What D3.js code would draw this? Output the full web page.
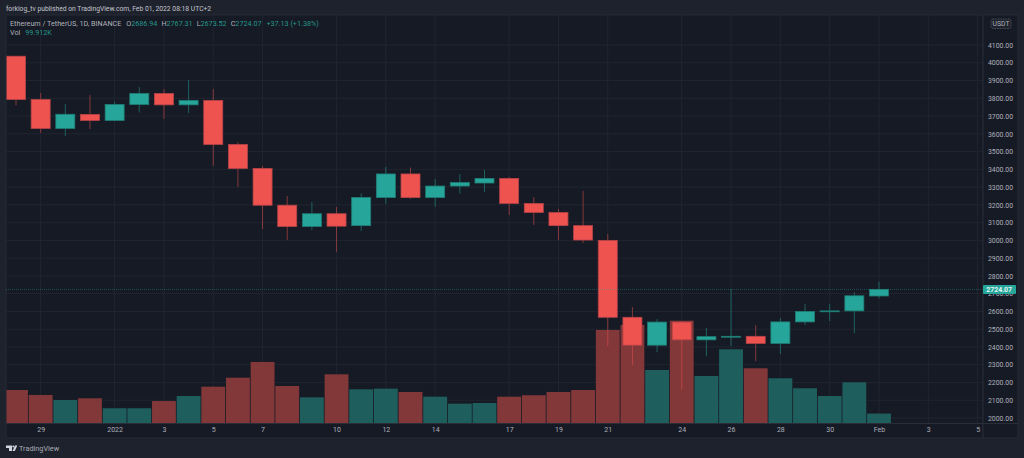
<!DOCTYPE html>
<html><head><meta charset="utf-8">
<script src="https://cdnjs.cloudflare.com/ajax/libs/d3/7.8.5/d3.min.js"></script>
<style>html,body{margin:0;padding:0;background:#1e222d;overflow:hidden}svg{display:block}text{font-family:Roboto,sans-serif}</style>
</head><body><svg id="c" width="1024" height="458"></svg>
<script>
const dates=["2021-12-28","2021-12-29","2021-12-30","2021-12-31","2022-01-01","2022-01-02","2022-01-03","2022-01-04","2022-01-05","2022-01-06","2022-01-07","2022-01-08","2022-01-09","2022-01-10","2022-01-11","2022-01-12","2022-01-13","2022-01-14","2022-01-15","2022-01-16","2022-01-17","2022-01-18","2022-01-19","2022-01-20","2022-01-21","2022-01-22","2022-01-23","2022-01-24","2022-01-25","2022-01-26","2022-01-27","2022-01-28","2022-01-29","2022-01-30","2022-01-31","2022-02-01"];
const opens=[4037,3793,3630,3709,3675,3765,3827,3763,3788,3540,3405,3198,3078,3150,3083,3241,3374,3241,3306,3323,3349,3208,3157,3083,3000,2567,2410,2540,2440,2455,2460,2420,2541,2598,2603,2686.94];
const highs=[4037,3830,3768,3818,3780,3863,3852,3903,3852,3554,3419,3250,3216,3188,3265,3413,3410,3345,3374,3396,3357,3244,3177,3278,3036,2625,2557,2545,2507,2726,2523,2563,2642,2642,2708,2767.31];
const lows=[3760,3605,3588,3627,3675,3720,3683,3717,3420,3300,3064,3002,3058,2935,3053,3205,3233,3188,3264,3272,3143,3087,3002,2985,2405,2298,2370,2158,2348,2405,2320,2360,2523,2546,2478,2673.52];
const closes=[3793,3630,3710,3675,3765,3827,3763,3788,3540,3405,3198,3078,3150,3080,3242,3374,3241,3306,3326,3349,3208,3157,3083,3002,2567,2410,2540,2440,2458,2460,2420,2541,2600,2603,2688,2724.07];
const volumes=[350,297,244,262,156,156,233,286,385,480,647,392,272,516,357,364,329,279,205,212,279,294,329,350,986,1039,562,1084,498,781,580,474,368,286,431,99.912];
const priceTicks=[2000,2100,2200,2300,2400,2500,2600,2700,2800,2900,3000,3100,3200,3300,3400,3500,3600,3700,3800,3900,4000,4100];
const timeTickDates=["2021-12-29","2022-01-01","2022-01-03","2022-01-05","2022-01-07","2022-01-10","2022-01-12","2022-01-14","2022-01-17","2022-01-19","2022-01-21","2022-01-24","2022-01-26","2022-01-28","2022-01-30","2022-02-01","2022-02-03","2022-02-05"];
const timeTickLabels=["29","2022","3","5","7","10","12","14","17","19","21","24","26","28","30","Feb","3","5"];
const title="forklog_tv published on TradingView.com, Feb 01, 2022 08:18 UTC+2";
const symbol="Ethereum / TetherUS, 1D, BINANCE";
const lastPrice=2724.07, lastVolume="99.912K", changeText="+37.13 (+1.38%)";

const BG="#1e222d",PANE="#161a25",GRID="#212530",UP="#26a69a",DOWN="#ef5350",TXT="#aeb1ba";
const L=6,R=1018,T=15,B=438,AX=983,BASE=423;
const svg=d3.select("#c");
const day=s=>new Date(s+"T00:00:00Z");
const x=d3.scaleUtc().domain([day("2021-12-28"),day("2022-02-01")]).range([16,879]);
const y=d3.scaleLinear().domain([2000,4100]).range([418,45]);
const v=d3.scaleLinear().domain([0,1084]).range([BASE,320.7]);
const bw=x(day("2021-12-29"))-x(day("2021-12-28"));

svg.append("rect").attr("width",1024).attr("height",458).attr("fill",BG);
svg.append("rect").attr("x",L).attr("y",T).attr("width",R-L).attr("height",B-T).attr("fill",PANE).attr("stroke","#262a35").attr("stroke-width",1);
svg.append("defs").append("clipPath").attr("id","pane").append("rect").attr("x",L+.5).attr("y",T+.5).attr("width",AX-L-.5).attr("height",BASE-T-.5);

// grid
const grid=svg.append("g").attr("stroke",GRID).attr("stroke-width",1);
grid.selectAll("line.h").data(priceTicks).join("line").attr("class","h").attr("x1",L).attr("x2",AX).attr("y1",d=>y(d)).attr("y2",d=>y(d));
grid.selectAll("line.v").data(timeTickDates).join("line").attr("class","v").attr("x1",d=>x(day(d))).attr("x2",d=>x(day(d))).attr("y1",T).attr("y2",BASE);

const plot=svg.append("g").attr("clip-path","url(#pane)");
const idx=d3.range(dates.length);
const isUp=i=>closes[i]>=opens[i];
// volume
plot.selectAll("rect.vol").data(idx).join("rect").attr("class","vol")
 .attr("x",i=>x(day(dates[i]))-bw/2+.4).attr("width",bw-.8)
 .attr("y",i=>v(volumes[i])).attr("height",i=>BASE-v(volumes[i]))
 .attr("fill",i=>isUp(i)?"#1e5f5e":"#823739");
// wicks
plot.selectAll("line.wick").data(idx).join("line").attr("class","wick")
 .attr("x1",i=>x(day(dates[i]))).attr("x2",i=>x(day(dates[i])))
 .attr("y1",i=>y(highs[i])).attr("y2",i=>y(lows[i]))
 .attr("stroke",i=>isUp(i)?UP:DOWN).attr("stroke-opacity",.5).attr("stroke-width",1);
// bodies
plot.selectAll("rect.body").data(idx).join("rect").attr("class","body")
 .attr("x",i=>x(day(dates[i]))-9.5).attr("width",19)
 .attr("y",i=>y(Math.max(opens[i],closes[i]))).attr("height",i=>Math.max(.6,Math.abs(y(opens[i])-y(closes[i]))))
 .attr("fill",i=>isUp(i)?UP:DOWN).attr("stroke",i=>isUp(i)?"#1f7d75":"#b54448").attr("stroke-width",.8);

// last price line
svg.append("line").attr("x1",L).attr("x2",AX).attr("y1",y(lastPrice)).attr("y2",y(lastPrice))
 .attr("stroke",UP).attr("stroke-opacity",.4).attr("stroke-dasharray","1 1").attr("stroke-width",1);

// axis separators
svg.append("line").attr("x1",AX).attr("x2",AX).attr("y1",T).attr("y2",B).attr("stroke","#2a2e39");
svg.append("line").attr("x1",L).attr("x2",R).attr("y1",BASE+.5).attr("y2",BASE+.5).attr("stroke","#2a2e39");

// axes
const yAxis=svg.append("g").attr("transform",`translate(${AX+5},0)`)
 .call(d3.axisRight(y).tickValues(priceTicks).tickFormat(d3.format(".2f")).tickSize(0).tickPadding(0));
yAxis.select(".domain").remove();
yAxis.selectAll("text").attr("fill",TXT).attr("font-size",6.9).attr("font-family","Roboto,sans-serif");
const labelOf=new Map(timeTickDates.map((d,i)=>[+day(d),timeTickLabels[i]]));
const xAxis=svg.append("g").attr("transform",`translate(0,${BASE+4.5})`)
 .call(d3.axisBottom(x).tickValues(timeTickDates.map(day)).tickFormat(d=>labelOf.get(+d)).tickSize(0).tickPadding(0));
xAxis.select(".domain").remove();
xAxis.selectAll("text").attr("fill",TXT).attr("font-size",7).attr("font-family","Roboto,sans-serif");

// last price tag
svg.append("rect").attr("x",983).attr("y",y(lastPrice)-4.5).attr("width",33).attr("height",9).attr("rx",1).attr("fill",UP);
svg.append("text").attr("x",1012).attr("y",y(lastPrice)+2.6).attr("text-anchor","end").attr("fill","#e8f5f3").attr("font-size",6.9).attr("font-weight",700).text(lastPrice.toFixed(2));

// USDT box
svg.append("rect").attr("x",991).attr("y",19).attr("width",20).attr("height",9.5).attr("rx",2).attr("fill","#1e222d").attr("stroke","#6a6e78").attr("stroke-width",.6).attr("stroke-dasharray","1.5 1");
svg.append("text").attr("x",1001).attr("y",26.3).attr("text-anchor","middle").attr("fill",TXT).attr("font-size",6.8).text("USDT");

// header
svg.append("text").attr("x",6).attr("y",10.5).attr("fill","#c3c6ce").attr("font-size",6.75).text(title);
const leg=svg.append("text").attr("x",10).attr("y",26).attr("font-size",7.2).attr("fill",TXT);
leg.append("tspan").text(symbol);
const pair=(k,val,dx)=>{leg.append("tspan").attr("dx",dx).text(k);leg.append("tspan").attr("fill",UP).attr("fill-opacity",.9).text(val.toFixed(2));};
pair("O",opens[35],5);pair("H",highs[35],4);pair("L",lows[35],4);pair("C",closes[35],4);
leg.append("tspan").attr("dx",5).attr("fill",UP).attr("fill-opacity",.9).text(changeText);
const vl=svg.append("text").attr("x",10).attr("y",35).attr("font-size",7.2).attr("fill",TXT);
vl.append("tspan").text("Vol");
vl.append("tspan").attr("dx",5).attr("fill",UP).attr("fill-opacity",.9).text(lastVolume);

// footer logo
svg.append("path").attr("fill","#d1d4dc").attr("d","M6 445.5h6v5.5h-3v-3H6z M12.5 451l2.5-5.5h2.3l-2.5 5.5z");
svg.append("circle").attr("cx",13.3).attr("cy",446.6).attr("r",1).attr("fill","#d1d4dc");
svg.append("text").attr("x",19).attr("y",451).attr("fill","#a9acb5").attr("font-size",7.3).text("TradingView");
</script></body></html>
